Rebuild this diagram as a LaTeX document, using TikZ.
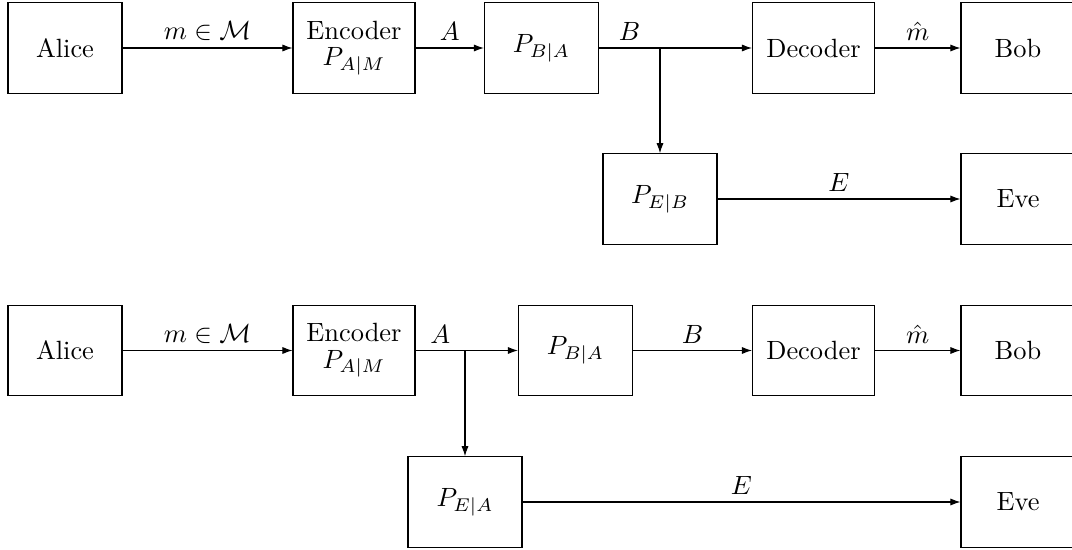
\documentclass[tikz,border=0pt]{standalone}
\usetikzlibrary{arrows.meta,calc}
\begin{document}
\begin{tikzpicture}[x=0.3788pt,y=-0.3788pt,
  blk/.style={draw,rectangle,minimum width=43.2pt,minimum height=34.3pt,inner sep=2pt,align=center},
  wideblk/.style={blk,minimum width=46.2pt},
  conn/.style={-{Latex[length=3.8pt,width=2.7pt]}},
  lbl/.style={above,inner sep=2.5pt}]
\useasboundingbox (0,0) rectangle (1072,550);
% top system
\node[blk] (alice1) at (65,48) {Alice};
\node[wideblk] (enc1) at (354,48) {Encoder\\[-2pt]$P_{A|M}$};
\node[blk] (chb1) at (541.5,48) {$P_{B|A}$};
\node[wideblk] (dec1) at (813.5,48) {Decoder};
\node[blk] (bob1) at (1018,48) {Bob};
\node[blk] (peb) at (660,199) {$P_{E|B}$};
\node[blk] (eve1) at (1018,199) {Eve};
\coordinate (j1) at (peb.north |- chb1.east);
\draw[conn] (alice1) -- node[lbl]{$m\in\mathcal{M}$} (enc1);
\draw[conn] (enc1) -- node[lbl]{$A$} (chb1);
\draw[conn] (chb1.east) -- node[lbl]{$B$} (j1) -- (dec1.west);
\draw[conn] (j1) -- (peb.north);
\draw[conn] (dec1) -- node[lbl]{$\hat{m}$} (bob1);
\draw[conn] (peb) -- node[lbl]{$E$} (eve1);
% bottom system
\node[blk] (alice2) at (65,350.5) {Alice};
\node[wideblk] (enc2) at (354,350.5) {Encoder\\[-2pt]$P_{A|M}$};
\node[blk] (chb2) at (575.5,350.5) {$P_{B|A}$};
\node[wideblk] (dec2) at (813.5,350.5) {Decoder};
\node[blk] (bob2) at (1018,350.5) {Bob};
\node[blk] (pea) at (465,502) {$P_{E|A}$};
\node[blk] (eve2) at (1018,502) {Eve};
\coordinate (j2) at (pea.north |- enc2.east);
\draw[conn] (alice2) -- node[lbl]{$m\in\mathcal{M}$} (enc2);
\draw[conn] (enc2.east) -- node[lbl]{$A$} (j2) -- (chb2.west);
\draw[conn] (j2) -- (pea.north);
\draw[conn] (chb2) -- node[lbl]{$B$} (dec2);
\draw[conn] (dec2) -- node[lbl]{$\hat{m}$} (bob2);
\draw[conn] (pea) -- node[lbl]{$E$} (eve2);
\end{tikzpicture}
\end{document}
